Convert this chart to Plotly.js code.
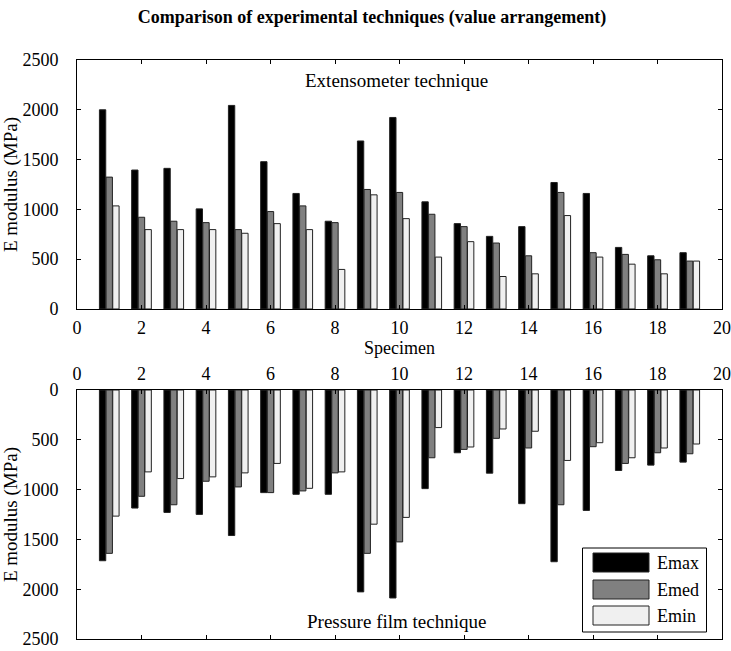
<!DOCTYPE html>
<html>
<head>
<meta charset="utf-8">
<script src="https://cdn.plot.ly/plotly-3.0.1.min.js"></script>
<style>html,body{margin:0;padding:0;background:#fff;}#chart{width:731px;height:651px;}</style>
</head>
<body>
<div id="chart"></div>
<script>
const specimens = [1,2,3,4,5,6,7,8,9,10,11,12,13,14,15,16,17,18,19];
const seriesNames = ['Emax','Emed','Emin'];
const seriesColors = ['#000000','#808080','#f0f0f0'];

// Extensometer technique (MPa)
const extEmax = [2000,1395,1412,1005,2044,1479,1160,881,1687,1923,1076,857,729,827,1270,1160,618,534,565];
const extEmed = [1324,921,881,867,797,978,1035,867,1200,1170,951,827,662,534,1170,565,548,494,481];
const extEmin = [1035,797,797,797,760,857,797,397,1146,907,521,676,326,353,938,521,450,353,481];

// Pressure film technique (MPa)
const pfEmax = [1714,1185,1229,1249,1461,1030,1047,1047,2027,2088,990,630,835,1141,1724,1209,808,754,724];
const pfEmed = [1640,1067,1152,916,973,1030,1013,832,1640,1525,680,596,485,582,1152,569,737,630,640];
const pfEmin = [1266,822,889,872,832,737,987,822,1347,1279,377,572,391,414,707,529,680,582,542];

const ext = [extEmax, extEmed, extEmin];
const pf = [pfEmax, pfEmed, pfEmin];

const font = 'Liberation Serif';
const traces = [];
seriesNames.forEach((n,i)=>{
  traces.push({type:'bar', x:specimens, y:ext[i], name:n, xaxis:'x', yaxis:'y',
    marker:{color:seriesColors[i], line:{color:'#222', width:1}}, showlegend:false});
});
seriesNames.forEach((n,i)=>{
  traces.push({type:'bar', x:specimens, y:pf[i], name:n, xaxis:'x2', yaxis:'y2',
    marker:{color:seriesColors[i], line:{color:'#222', width:1}}, showlegend:false});
});

// custom legend (MATLAB-style wide swatches)
const shapes = [];
const annotations = [];
const px = v => (v-77)/645;
const py = v => (639-v)/579;
shapes.push({type:'rect', xref:'paper', yref:'paper', x0:px(582.5), x1:px(706.5), y0:py(632), y1:py(548),
  line:{color:'#000', width:1}, fillcolor:'#fff', layer:'above'});
const swTop = [553,580,606];
seriesNames.forEach((n,i)=>{
  shapes.push({type:'rect', xref:'paper', yref:'paper', x0:px(593), x1:px(649), y0:py(swTop[i]+19), y1:py(swTop[i]),
    line:{color:'#222', width:1}, fillcolor:seriesColors[i], layer:'above'});
  annotations.push({xref:'paper', yref:'paper', x:px(655), y:py(swTop[i]+9.5), xanchor:'left', yanchor:'middle',
    text:n, showarrow:false, font:{family:font, size:18, color:'#000'}});
});
annotations.push({xref:'paper', yref:'paper', x:px(396), y:py(80), xanchor:'center', yanchor:'middle',
  text:'Extensometer technique', showarrow:false, font:{family:font, size:19, color:'#000'}});
annotations.push({xref:'paper', yref:'paper', x:px(396), y:py(621), xanchor:'center', yanchor:'middle',
  text:'Pressure film technique', showarrow:false, font:{family:font, size:19, color:'#000'}});

const axCommon = {showgrid:false, zeroline:false, ticks:'inside', ticklen:4, tickcolor:'#000',
  linecolor:'#000', linewidth:1, showline:true, mirror:'ticks',
  tickfont:{family:font, size:18, color:'#000'}};

const layout = {
  width:731, height:651,
  margin:{l:77, r:9, t:60, b:12},
  paper_bgcolor:'#fff', plot_bgcolor:'#fff',
  font:{family:font, color:'#000'},
  title:{text:'<b>Comparison of experimental techniques (value arrangement)</b>', x:px(372), xanchor:'center', xref:'paper', y:0.974, yanchor:'middle',
    font:{family:font, size:18, color:'#000'}},
  barmode:'group', bargap:0.38, bargroupgap:0.05,
  xaxis:Object.assign({}, axCommon, {range:[0,20], dtick:2, tick0:0, anchor:'y', ticklabelstandoff:2,
    title:{text:'Specimen', font:{family:font, size:18, color:'#000'}, standoff:4}}),
  yaxis:Object.assign({}, axCommon, {range:[0,2500], dtick:500, domain:[0.570,1], anchor:'x', ticklabelstandoff:14,
    title:{text:'E modulus (MPa)', font:{family:font, size:19, color:'#000'}, standoff:3}}),
  xaxis2:Object.assign({}, axCommon, {range:[0,20], dtick:2, tick0:0, anchor:'y2', side:'top', ticklabelstandoff:2}),
  yaxis2:Object.assign({}, axCommon, {range:[2500,0], dtick:500, domain:[0,0.430], anchor:'x2', ticklabelstandoff:14,
    title:{text:'E modulus (MPa)', font:{family:font, size:19, color:'#000'}, standoff:3}}),
  shapes:shapes, annotations:annotations
};
Plotly.newPlot('chart', traces, layout, {displayModeBar:false, staticPlot:true});
</script>
</body>
</html>
